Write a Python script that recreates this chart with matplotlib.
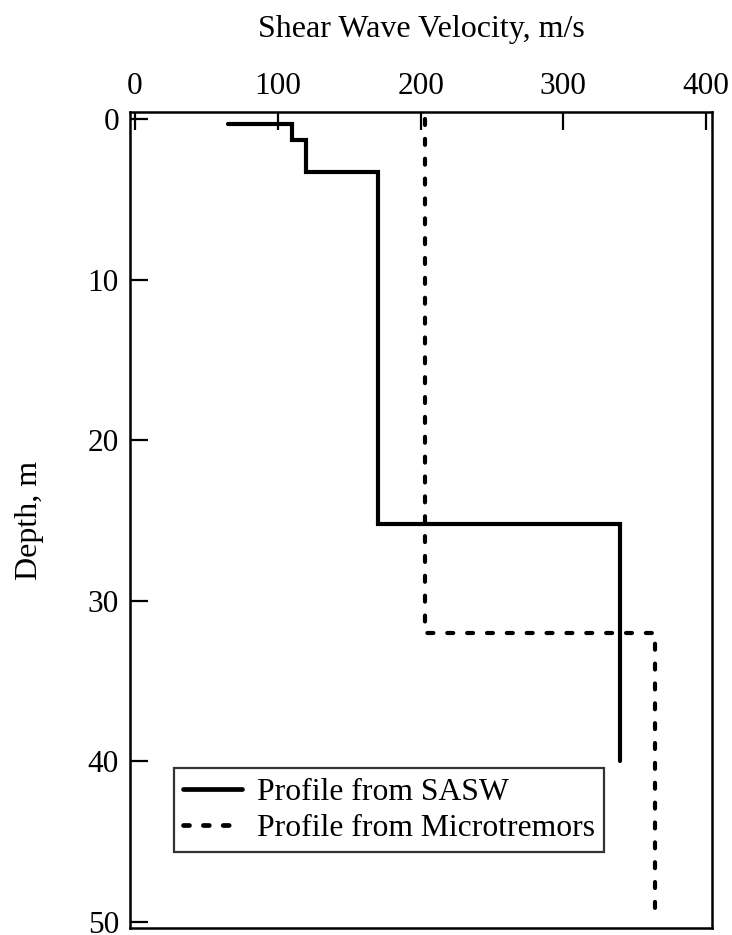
import matplotlib
matplotlib.use("Agg")
import matplotlib.pyplot as plt

plt.rcParams['font.family'] = ['Liberation Serif', 'DejaVu Serif']
plt.rcParams['lines.scale_dashes'] = False

# Shear wave velocity profiles (velocity in m/s, depth in m)
sasw_velocity = [65, 110, 110, 120, 120, 170, 170, 340, 340]
sasw_depth = [0.3, 0.3, 1.3, 1.3, 3.3, 3.3, 25.2, 25.2, 40.0]

micro_velocity = [203, 203, 364, 364]
micro_depth = [0.0, 32.0, 32.0, 49.5]

x_ticks = [0, 100, 200, 300, 400]
y_ticks = [0, 10, 20, 30, 40, 50]

fig = plt.figure(figsize=(7.32, 9.35), dpi=100)
ax = fig.add_axes([130 / 732, 1 - 928 / 935, 582 / 732, 816 / 935])

ax.plot(sasw_velocity, sasw_depth, color='black', lw=3.0,
        solid_capstyle='round', solid_joinstyle='miter',
        label='Profile from SASW')
ax.plot(micro_velocity, micro_depth, color='black', lw=3.0,
        dashes=(4.3, 10.0), dash_capstyle='round', dash_joinstyle='miter',
        label='Profile from Microtremors')

ax.set_xlim(-3.5, 404.1)
ax.set_ylim(50.37, -0.44)
ax.set_xticks(x_ticks)
ax.set_yticks(y_ticks)

ax.xaxis.set_label_position('top')
ax.xaxis.tick_top()
ax.tick_params(axis='both', direction='in', length=13, width=1.6,
               labelsize=22.5)
ax.tick_params(axis='x', pad=8)
ax.tick_params(axis='y', pad=8)
for s in ax.spines.values():
    s.set_linewidth(1.8)

ax.set_xlabel('Shear Wave Velocity, m/s', fontsize=23, labelpad=25)
ax.set_ylabel('Depth, m', fontsize=23)
ax.yaxis.set_label_coords(-0.148, 0.5)

leg = ax.legend(loc='lower left', bbox_to_anchor=(0.0756, 0.093),
                fontsize=22.8, frameon=True, fancybox=False,
                handlelength=1.85, handletextpad=0.47, borderpad=0.3,
                labelspacing=0.2, borderaxespad=0.0)
leg.get_frame().set_edgecolor('black')
leg.get_frame().set_linewidth(1.6)
for line in leg.get_lines():
    line.set_linewidth(3.4)

fig.savefig('out.png', dpi=100)
